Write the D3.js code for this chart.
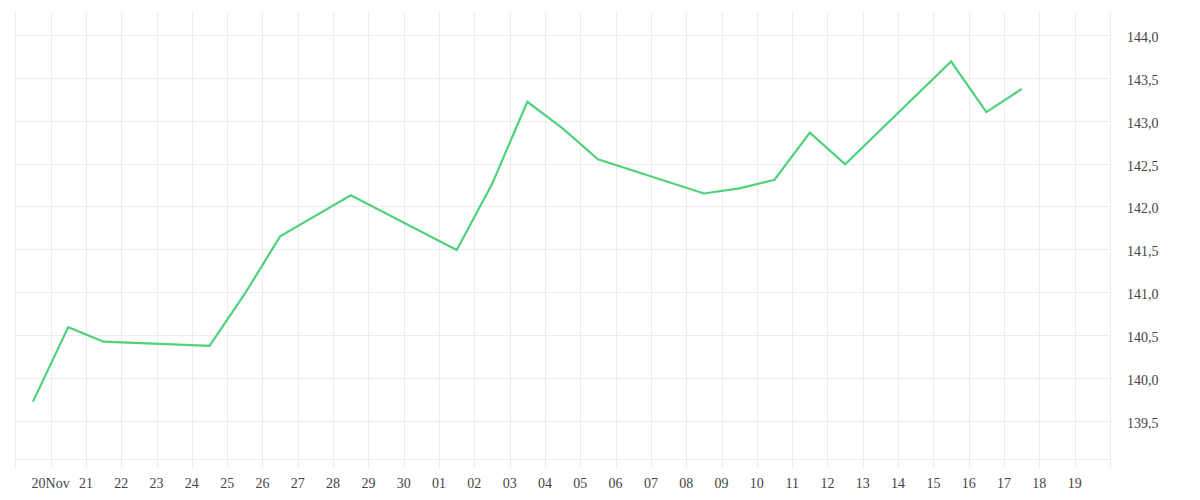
<!DOCTYPE html>
<html>
<head>
<meta charset="utf-8">
<script src="https://cdn.jsdelivr.net/npm/d3@7"></script>
<style>
  html, body { margin: 0; padding: 0; background: #fff; }
  svg { display: block; }
  .grid line { stroke: #ececec; stroke-width: 1; shape-rendering: crispEdges; }
  .lbl { font-family: "Liberation Serif", serif; font-size: 14px; fill: #444; }
</style>
</head>
<body>
<svg width="1200" height="500"></svg>
<script>
// trading days (values at noon of each day)
const days = [
    "2014-11-19", "2014-11-20", "2014-11-21", "2014-11-24", "2014-11-25",
    "2014-11-26", "2014-11-28", "2014-12-01", "2014-12-02", "2014-12-03",
    "2014-12-04", "2014-12-05", "2014-12-08", "2014-12-09", "2014-12-10",
    "2014-12-11", "2014-12-12", "2014-12-15", "2014-12-16", "2014-12-17"
];
const prices = [
    139.72, 140.59, 140.42, 140.37, 140.98,
    141.65, 142.13, 141.49, 142.26, 143.22,
    142.91, 142.55, 142.15, 142.21, 142.31,
    142.86, 142.49, 143.69, 143.10, 143.37
];
// x tick labels, Nov 20 .. Dec 19
const xTickLabels = [
    "20Nov", "21", "22", "23", "24", "25", "26", "27", "28", "29", "30",
    "01", "02", "03", "04", "05", "06", "07", "08", "09", "10",
    "11", "12", "13", "14", "15", "16", "17", "18", "19"
];
const yTicks = [139.5, 140.0, 140.5, 141.0, 141.5, 142.0, 142.5, 143.0, 143.5, 144.0];

const svg = d3.select("svg");
const plotLeft = 15.3, plotRight = 1110, plotTop = 12.3, plotBottom = 458.7;

const x = d3.scaleUtc()
    .domain([new Date("2014-11-19T00:00:00Z"), new Date("2014-12-20T00:00:00Z")])
    .range([plotLeft, plotRight]);

const y = d3.scaleLinear()
    .domain([139.5, 144.0])
    .range([420.5, 35]);

const locale = d3.formatLocale({ decimal: ",", thousands: ".", grouping: [3], currency: ["", ""] });
const fmt = locale.format(".1f");

const grid = svg.append("g").attr("class", "grid");

// vertical day lines, with a short tick below the plot
const dayTicks = d3.utcDay.range(x.domain()[0], d3.utcDay.offset(x.domain()[1], 1));
grid.selectAll(".v")
    .data(dayTicks)
    .enter().append("line")
    .attr("x1", d => Math.round(x(d)) + 0.5)
    .attr("x2", d => Math.round(x(d)) + 0.5)
    .attr("y1", plotTop)
    .attr("y2", plotBottom + 9);

grid.selectAll(".h")
    .data(yTicks)
    .enter().append("line")
    .attr("x1", plotLeft)
    .attr("x2", plotRight)
    .attr("y1", d => Math.round(y(d)) + 0.5)
    .attr("y2", d => Math.round(y(d)) + 0.5);

grid.append("line")
    .attr("x1", plotLeft).attr("x2", plotRight)
    .attr("y1", Math.round(plotBottom) + 0.5).attr("y2", Math.round(plotBottom) + 0.5);

// x labels
const labelDays = dayTicks.slice(1, 1 + xTickLabels.length);
svg.append("g").selectAll("text")
    .data(labelDays)
    .enter().append("text")
    .attr("class", "lbl")
    .attr("x", d => x(d))
    .attr("y", 488)
    .attr("text-anchor", "middle")
    .text((d, i) => xTickLabels[i]);

// y labels on the right
svg.append("g").selectAll("text")
    .data(yTicks)
    .enter().append("text")
    .attr("class", "lbl")
    .attr("x", 1127)
    .attr("y", d => y(d) + 7)
    .text(d => fmt(d));

// price line
const data = days.map((d, i) => ({
    date: new Date(d + "T12:00:00Z"),
    value: prices[i]
}));

const line = d3.line()
    .x(d => x(d.date))
    .y(d => y(d.value));

svg.append("path")
    .datum(data)
    .attr("fill", "none")
    .attr("stroke", "#4fd27b")
    .attr("stroke-width", 2.2)
    .attr("stroke-linejoin", "miter")
    .attr("d", line);
</script>
</body>
</html>
